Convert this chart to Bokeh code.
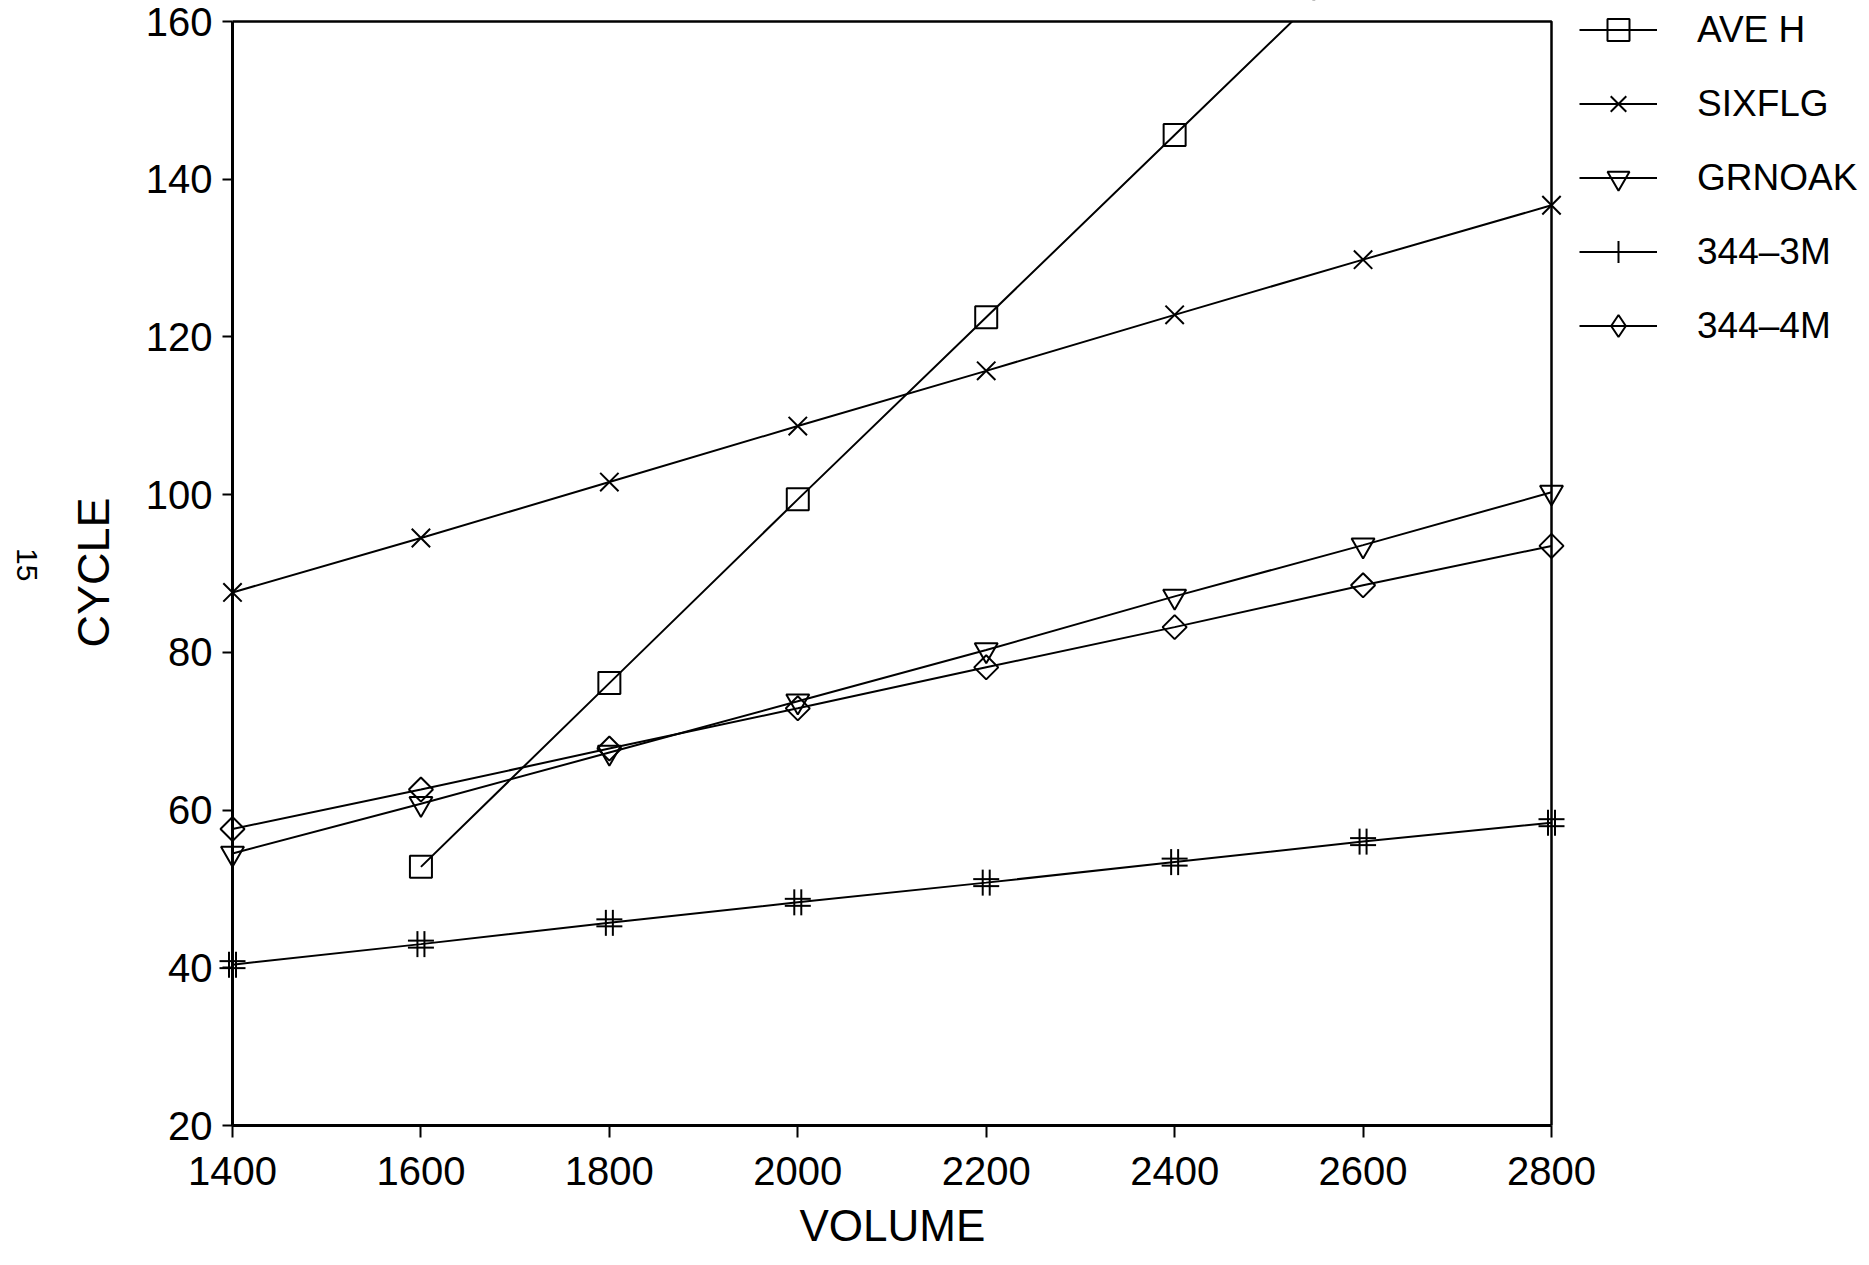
import math
from bokeh.plotting import figure
from bokeh.models import (Range1d, FixedTicker, Legend, LegendItem, LinearAxis,
                          BoxAnnotation, Title)
from bokeh.embed import file_html
from bokeh.resources import INLINE

# ---- data ----
volume = [1400, 1600, 1800, 2000, 2200, 2400, 2600, 2800]
ave_h_volume = [1600, 1800, 2000, 2200, 2400, 2600]
ave_h = [52.8, 76.1, 99.4, 122.5, 145.6, 168.7]
sixflg = [87.6, 94.5, 101.6, 108.7, 115.7, 122.8, 129.8, 136.7]
grnoak = [54.5, 60.8, 67.3, 73.8, 80.3, 87.1, 93.6, 100.3]
s344_3m = [40.4, 43.0, 45.7, 48.3, 50.8, 53.4, 56.0, 58.4]
s344_4m = [57.6, 62.6, 67.8, 72.9, 78.1, 83.2, 88.5, 93.5]
x_ticks = [1400, 1600, 1800, 2000, 2200, 2400, 2600, 2800]
y_ticks = [20, 40, 60, 80, 100, 120, 140, 160]
page_number = "15"
page_number_y = 89

FONT = "Liberation Sans"
W, H = 1869, 1265
L, B = 232, 140           # left / bottom borders (px)
AX_W, AX_H = 1319, 1104   # size of the boxed plotting area (px)
TOP_GAP = 21              # px between canvas top and the 160 line
X0, X1, Y0, Y1 = 1400, 2800, 20, 160
px_x = (X1 - X0) / AX_W
px_y = (Y1 - Y0) / AX_H
X_END = X0 + (W - L) * px_x
Y_END = Y1 + TOP_GAP * px_y

# the frame covers the box plus the legend area to its right / above
p = figure(width=W, height=H, output_backend="svg", toolbar_location=None,
           x_range=Range1d(X0, X_END), y_range=Range1d(Y0, Y_END),
           min_border_left=L, min_border_right=0, min_border_top=0, min_border_bottom=B,
           background_fill_color="white", border_fill_color="white")
p.xgrid.visible = False
p.ygrid.visible = False
p.outline_line_color = None

for ax in (p.xaxis[0], p.yaxis[0]):
    ax.axis_line_width = 3
    ax.axis_line_color = "black"
    ax.major_tick_line_width = 2
    ax.major_tick_line_color = "black"
    ax.major_tick_in = 0
    ax.minor_tick_line_color = None
    ax.major_label_text_font = FONT
    ax.major_label_text_font_size = "40px"
    ax.major_label_text_color = "black"

p.xaxis.bounds = (X0, X1)
p.yaxis.bounds = (Y0, Y1)
p.xaxis.ticker = FixedTicker(ticks=x_ticks)
p.yaxis.ticker = FixedTicker(ticks=y_ticks)
p.xaxis.major_tick_out = 12
p.yaxis.major_tick_out = 10
p.xaxis.major_label_standoff = 19
p.yaxis.major_label_standoff = 10

# axis titles, centred on the boxed area (not on the wider frame)
x_title = Title(text="VOLUME", align="left", vertical_align="top", offset=567, standoff=27,
                text_font=FONT, text_font_size="44px", text_font_style="normal",
                text_color="black")
p.add_layout(x_title, "below")
y_title = Title(text="CYCLE", align="left", vertical_align="bottom", offset=478, standoff=48,
                text_font=FONT, text_font_size="45px", text_font_style="normal",
                text_color="black")
p.add_layout(y_title, "left")

# page number at the far left, written top-to-bottom
pg = LinearAxis(ticker=FixedTicker(ticks=[page_number_y]),
                major_label_overrides={page_number_y: page_number},
                axis_line_color=None, major_tick_line_color=None, minor_tick_line_color=None,
                major_label_orientation=-math.pi / 2, major_label_standoff=9,
                major_label_text_font=FONT, major_label_text_font_size="30px",
                major_label_text_color="black")
p.add_layout(pg, "left")

LW = 2
l_ave = p.line(ave_h_volume, ave_h, line_color="black", line_width=LW)
l_six = p.line(volume, sixflg, line_color="black", line_width=LW)
l_grn = p.line(volume, grnoak, line_color="black", line_width=LW)
l_3m = p.line(volume, s344_3m, line_color="black", line_width=LW)
l_4m = p.line(volume, s344_4m, line_color="black", line_width=LW)

# white mask above the 160 line: the AVE H line ends at the top of the box
p.quad(left=[X0], right=[X1], bottom=[Y1], top=[Y_END + 20 * px_y],
       fill_color="white", fill_alpha=1.0, line_alpha=0)

m_ave = p.scatter(ave_h_volume, ave_h, marker="square", size=22, line_color="black",
                  line_width=LW, fill_alpha=0, level="overlay")
m_six = p.scatter(volume, sixflg, marker="x", size=26, line_color="black",
                  line_width=LW, level="overlay")
m_grn = p.scatter(volume, grnoak, marker="inverted_triangle", size=23, line_color="black",
                  line_width=LW, fill_alpha=0, level="overlay")
dy = 3.5 * px_y
dx = 3.5 * px_x
for xs, ys, ang in (
        (volume, [v + dy for v in s344_3m], 0),
        (volume, [v - dy for v in s344_3m], 0),
        ([v + dx for v in volume], s344_3m, math.pi / 2),
        ([v - dx for v in volume], s344_3m, math.pi / 2)):
    p.scatter(xs, ys, marker="dash", angle=ang, size=26,
              line_color="black", line_width=LW, level="overlay")
m_4m = p.scatter(volume, s344_4m, marker="square", angle=math.pi / 4, size=17,
                 line_color="black", line_width=LW, fill_alpha=0, level="overlay")

# hidden renderers that only supply the legend symbols for '#' and the diamond
lg_3m = p.scatter(volume, s344_3m, marker="cross", line_color="black", line_width=LW,
                  visible=False)
lg_4m = p.scatter(volume, s344_4m, marker="diamond", line_color="black", line_width=LW,
                  fill_alpha=0, visible=False)

# the axis box
p.add_layout(BoxAnnotation(left=X0, right=X1, bottom=Y0, top=Y1, fill_alpha=0,
                           line_color="black", line_alpha=1, line_width=2.5,
                           level="overlay"))

GH = 55
SP = 19
n_items = 5
leg_h = n_items * GH + (n_items - 1) * SP
leg_top = 30 - GH / 2
legend = Legend(items=[
    LegendItem(label="AVE H", renderers=[l_ave, m_ave]),
    LegendItem(label="SIXFLG", renderers=[l_six, m_six]),
    LegendItem(label="GRNOAK", renderers=[l_grn, m_grn]),
    LegendItem(label="344\u20133M", renderers=[l_3m, lg_3m]),
    LegendItem(label="344\u20134M", renderers=[l_4m, lg_4m]),
], location=(1579 - L, int(round(H - B - leg_top - leg_h))))
legend.label_text_font = FONT
legend.label_text_font_size = "37px"
legend.label_text_color = "black"
legend.glyph_width = 78
legend.glyph_height = GH
legend.label_height = GH
legend.label_standoff = 40
legend.spacing = SP
legend.padding = 0
legend.margin = 0
legend.border_line_alpha = 0
legend.background_fill_alpha = 0
p.add_layout(legend, "center")

open("out.html", "w").write(file_html(p, INLINE))
